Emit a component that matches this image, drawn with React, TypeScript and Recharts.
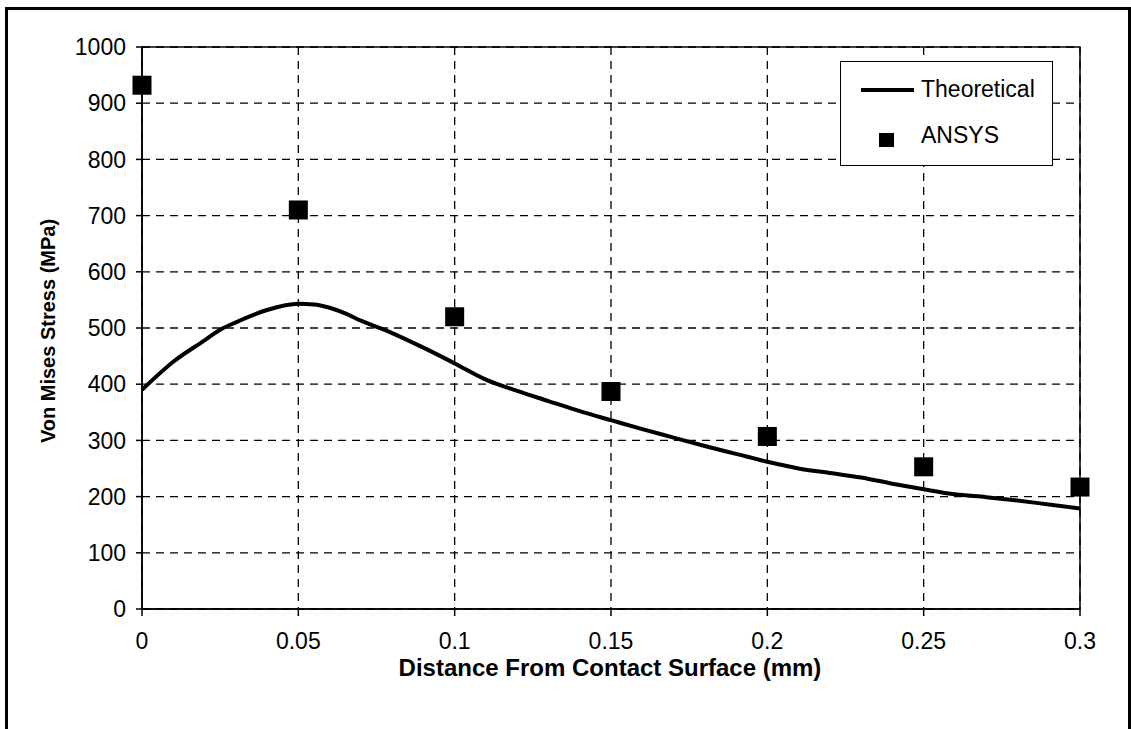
import {
  CartesianGrid,
  ComposedChart,
  Line,
  ReferenceArea,
  Scatter,
  XAxis,
  YAxis,
} from "recharts";

const theoryX = [
  0, 0.01, 0.02, 0.025, 0.03, 0.04, 0.05, 0.055, 0.06, 0.065, 0.07, 0.08, 0.09,
  0.1, 0.11, 0.12, 0.13, 0.14, 0.15, 0.16, 0.17, 0.18, 0.19, 0.2, 0.21, 0.22,
  0.23, 0.24, 0.25, 0.26, 0.27, 0.28, 0.29, 0.3,
];
const theoryStress = [
  390, 440, 478, 497, 510, 532, 543, 542, 536, 526, 513, 491, 465, 437, 408,
  388, 370, 352, 336, 320, 305, 290, 276, 262, 250, 242, 234, 223, 213, 204,
  199, 193, 186, 179,
];

const ansysX = [0, 0.05, 0.1, 0.15, 0.2, 0.25, 0.3];
const ansysStress = [932, 710, 520, 387, 307, 253, 217];

const xTicks = [0, 0.05, 0.1, 0.15, 0.2, 0.25, 0.3];
const yTicks = [0, 100, 200, 300, 400, 500, 600, 700, 800, 900, 1000];

const theory = theoryX.map((x, i) => ({ x, y: theoryStress[i] }));
const ansys = ansysX.map((x, i) => ({ x, y: ansysStress[i] }));

const FONT = "'Liberation Sans', Arial, sans-serif";

function Square(props: any) {
  const { cx, cy } = props;
  return <rect x={cx - 9.5} y={cy - 9.5} width={19} height={19} fill="#000" />;
}

function XTitle() {
  return (
    <text
      x={610}
      y={676}
      textAnchor="middle"
      fontFamily={FONT}
      fontSize={24}
      fontWeight="bold"
      fill="#000"
    >
      Distance From Contact Surface (mm)
    </text>
  );
}

function YTitle() {
  return (
    <text
      x={48}
      y={331}
      transform="rotate(-90 48 331)"
      textAnchor="middle"
      dominantBaseline="central"
      fontFamily={FONT}
      fontSize={20}
      fontWeight="bold"
      fill="#000"
    >
      Von Mises Stress (MPa)
    </text>
  );
}

export default function App() {
  return (
    <div
      style={{
        position: "absolute",
        left: 0,
        top: 0,
        width: 1131,
        height: 729,
        background: "#fff",
        overflow: "hidden",
        fontFamily: FONT,
      }}
    >
      {/* outer frame, bottom edge runs off the page */}
      <div
        style={{
          position: "absolute",
          left: 5,
          top: 7,
          width: 1120,
          height: 740,
          border: "3px solid #000",
        }}
      />
      <ComposedChart
        width={1131}
        height={729}
        margin={{ top: 47, right: 51, left: 0, bottom: 0 }}
        style={{ position: "absolute", left: 0, top: 0 }}
      >
        <CartesianGrid stroke="#000" strokeDasharray="8 6" strokeWidth={1.3} />
        <ReferenceArea
          x1={0}
          x2={0.3}
          y1={0}
          y2={1000}
          fill="none"
          stroke="#000"
          strokeWidth={1.5}
          ifOverflow="visible"
        />
        <XAxis
          type="number"
          dataKey="x"
          domain={[0, 0.3]}
          ticks={xTicks}
          height={120}
          tickSize={7}
          tickMargin={17}
          stroke="#000"
          strokeWidth={1.5}
          tick={{ fill: "#000", fontSize: 23, fontFamily: FONT }}
          label={<XTitle />}
        />
        <YAxis
          type="number"
          domain={[0, 1000]}
          ticks={yTicks}
          width={142}
          tickSize={6}
          tickMargin={10}
          stroke="#000"
          strokeWidth={1.5}
          tick={{ fill: "#000", fontSize: 23, fontFamily: FONT }}
          label={<YTitle />}
        />
        <Line
          data={theory}
          dataKey="y"
          type="monotone"
          stroke="#000"
          strokeWidth={4}
          dot={false}
          activeDot={false}
          isAnimationActive={false}
        />
        <Scatter
          data={ansys}
          dataKey="y"
          fill="#000"
          shape={Square}
          isAnimationActive={false}
        />
      </ComposedChart>
      {/* legend */}
      <div
        style={{
          position: "absolute",
          left: 840,
          top: 61,
          width: 213,
          height: 105,
          border: "1.5px solid #000",
          background: "#fff",
          boxSizing: "border-box",
          fontSize: 23,
          color: "#000",
        }}
      >
        <div style={{ position: "absolute", left: 20, top: 26, width: 53, height: 4, background: "#000" }} />
        <div style={{ position: "absolute", left: 80, top: 14, lineHeight: "26px" }}>Theoretical</div>
        <div style={{ position: "absolute", left: 38, top: 71, width: 15, height: 14, background: "#000" }} />
        <div style={{ position: "absolute", left: 80, top: 60, lineHeight: "26px" }}>ANSYS</div>
      </div>
    </div>
  );
}
